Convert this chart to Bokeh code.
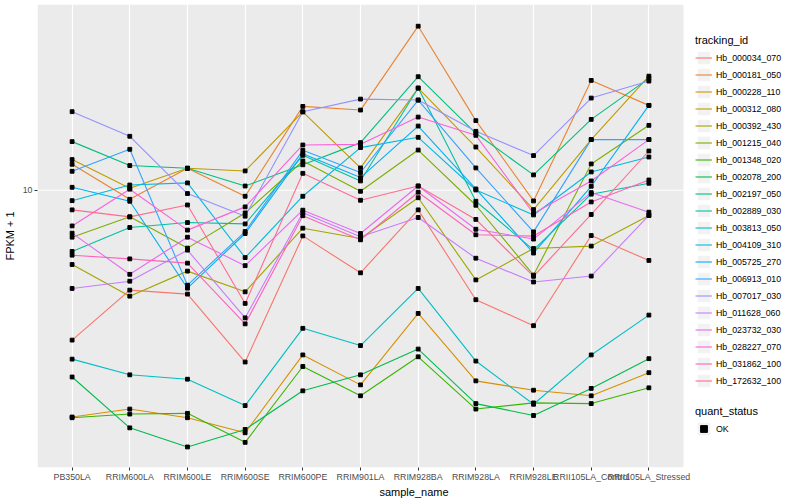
from bokeh.plotting import figure
from bokeh.models import (ColumnDataSource, Range1d, FixedTicker, Legend, LegendItem,
                          BasicTickFormatter, BoxAnnotation)
from bokeh.embed import file_html
from bokeh.resources import INLINE

samples = ["PB350LA", "RRIM600LA", "RRIM600LE", "RRIM600SE", "RRIM600PE", "RRIM901LA",
           "RRIM928BA", "RRIM928LA", "RRIM928LE", "RRII105LA_Control", "RRII105LA_Stressed"]

tracking_ids = ["Hb_000034_070", "Hb_000181_050", "Hb_000228_110", "Hb_000312_080",
                "Hb_000392_430", "Hb_001215_040", "Hb_001348_020", "Hb_002078_200",
                "Hb_002197_050", "Hb_002889_030", "Hb_003813_050", "Hb_004109_310",
                "Hb_005725_270", "Hb_006913_010", "Hb_007017_030", "Hb_011628_060",
                "Hb_023732_030", "Hb_028227_070", "Hb_031862_100", "Hb_172632_100"]

colors = ["#F8766D", "#EA8331", "#D89000", "#C09B00", "#A3A500", "#7CAE00", "#39B600",
          "#00BB4E", "#00BF7D", "#00C1A3", "#00BFC4", "#00BAE0", "#00B0F6", "#35A2FF",
          "#9590FF", "#C77CFF", "#E76BF3", "#FA62DB", "#FF62BC", "#FF6C91"]

# FPKM + 1 per sample (order of `samples`)
hb_000034_070 = [3.16, 4.64, 4.50, 2.67, 7.04, 5.30, 8.60, 4.31, 3.53, 7.06, 5.83]
hb_000181_050 = [12.21, 9.33, 11.84, 9.55, 19.05, 18.52, 35.29, 17.08, 9.21, 23.26, 19.2]
hb_000228_110 = [1.75, 1.86, 1.74, 1.55, 2.82, 2.24, 3.88, 2.31, 2.15, 2.06, 2.46]
hb_000312_080 = [12.66, 10.15, 11.84, 11.60, 18.27, 11.87, 21.93, 13.94, 8.62, 14.76, 24.04]
hb_000392_430 = [5.65, 4.43, 5.37, 4.58, 7.47, 6.90, 9.44, 5.02, 6.39, 6.51, 8.24]
hb_001215_040 = [6.97, 8.15, 6.41, 8.40, 12.52, 9.92, 13.62, 8.91, 5.21, 12.24, 16.47]
hb_001348_020 = [1.74, 1.79, 1.80, 1.44, 2.58, 2.06, 2.78, 1.86, 1.95, 1.94, 2.19]
hb_002078_200 = [2.38, 1.61, 1.39, 1.59, 2.14, 2.42, 2.95, 1.94, 1.77, 2.18, 2.74]
hb_002197_050 = [14.53, 12.09, 11.84, 10.33, 12.16, 14.42, 23.93, 15.49, 11.25, 17.24, 23.62]
hb_002889_030 = [6.25, 7.51, 7.80, 7.72, 13.08, 10.74, 21.93, 9.19, 6.32, 9.70, 10.55]
hb_003813_050 = [2.73, 2.42, 2.34, 1.91, 3.46, 3.03, 4.70, 2.69, 1.93, 2.82, 3.83]
hb_004109_310 = [9.23, 10.41, 10.58, 5.96, 9.55, 13.88, 15.02, 10.02, 8.27, 11.51, 12.91]
hb_005725_270 = [10.23, 9.19, 4.71, 7.17, 13.23, 11.02, 16.38, 10.10, 6.17, 10.31, 19.20]
hb_006913_010 = [11.57, 13.70, 4.82, 7.28, 13.59, 11.46, 20.0, 11.87, 7.26, 14.76, 14.76]
hb_007017_030 = [18.29, 15.14, 9.75, 8.19, 18.27, 20.15, 20.0, 15.73, 13.05, 20.31, 23.14]
hb_011628_060 = [4.70, 4.97, 6.31, 3.75, 8.41, 6.99, 8.11, 5.93, 4.94, 5.17, 8.24]
hb_023732_030 = [7.19, 5.24, 6.97, 5.60, 8.58, 7.17, 10.33, 7.41, 6.87, 9.82, 8.45]
hb_028227_070 = [7.60, 10.08, 7.36, 8.80, 14.16, 14.23, 17.55, 15.25, 8.36, 10.74, 14.76]
hb_031862_100 = [6.07, 5.90, 5.71, 3.58, 8.22, 6.83, 9.85, 7.10, 7.03, 9.14, 10.82]
hb_172632_100 = [8.60, 8.15, 8.93, 4.19, 11.39, 9.26, 10.33, 7.99, 5.16, 8.30, 13.52]

series = [hb_000034_070, hb_000181_050, hb_000228_110, hb_000312_080, hb_000392_430,
          hb_001215_040, hb_001348_020, hb_002078_200, hb_002197_050, hb_002889_030,
          hb_003813_050, hb_004109_310, hb_005725_270, hb_006913_010, hb_007017_030,
          hb_011628_060, hb_023732_030, hb_028227_070, hb_031862_100, hb_172632_100]

y_ticks = [10]
FONT = "Liberation Sans"

xpos = list(range(1, len(samples) + 1))
x_lo, x_hi = 0.4, len(samples) + 0.6          # ggplot-style discrete expansion
y_lo, y_hi = 1.187, 41.69
panel_w, legend_w = 646, 107                  # data panel + legend area (px)
x_end = x_hi + (x_hi - x_lo) * legend_w / panel_w

p = figure(frame_width=panel_w + legend_w, frame_height=463,
           x_range=Range1d(x_lo, x_end),
           y_range=Range1d(y_lo, y_hi), y_axis_type="log",
           output_backend="svg", toolbar_location=None,
           min_border_left=31, min_border_right=0, min_border_top=4, min_border_bottom=0)

p.background_fill_color = "white"
p.border_fill_color = "white"
p.outline_line_color = None

# grey panel only behind the data area
p.add_layout(BoxAnnotation(left=x_lo, right=x_hi, fill_color="#EBEBEB", fill_alpha=1,
                           line_color=None, level="image"))

xt = FixedTicker(ticks=xpos, minor_ticks=[])
yt = FixedTicker(ticks=y_ticks, minor_ticks=[])
p.xaxis.ticker = xt
p.yaxis.ticker = yt
p.xgrid.ticker = xt
p.xaxis.bounds = (x_lo, x_hi)
p.xaxis.major_label_overrides = {i: s for i, s in zip(xpos, samples)}
p.yaxis.formatter = BasicTickFormatter()
p.xgrid.grid_line_color = "white"
p.xgrid.grid_line_width = 1.2
p.xgrid.minor_grid_line_color = None
p.xgrid.level = "underlay"
p.ygrid.visible = False
# horizontal major grid line(s), limited to the data panel
p.segment(x0=[x_lo] * len(y_ticks), x1=[x_hi] * len(y_ticks), y0=y_ticks, y1=y_ticks,
          line_color="white", line_width=1.2, level="underlay")

for ax in (p.xaxis, p.yaxis):
    ax.axis_line_color = None
    ax.major_tick_line_color = "#333333"
    ax.major_tick_out = 3
    ax.major_tick_in = 0
    ax.minor_tick_line_color = None
    ax.major_label_text_font = FONT
    ax.major_label_text_font_size = "8.8px"
    ax.major_label_text_color = "#4D4D4D"
    ax.major_label_standoff = 1
    ax.axis_label_text_font = FONT
    ax.axis_label_text_font_size = "11px"
    ax.axis_label_text_font_style = "normal"
    ax.axis_label_text_color = "black"
    ax.axis_label_standoff = 1
p.yaxis.major_label_standoff = 2
p.yaxis.axis_label_standoff = 4
p.xaxis.axis_label = "sample_name"
p.yaxis.axis_label = "FPKM + 1"

# legend key background (grey box per key); its single datum sits outside the visible range
key_bg = p.rect(x="x", y="y", width=0.1, height=0.1,
                source=ColumnDataSource(dict(x=[x_end + 1], y=[y_hi * 10])),
                fill_color="#F2F2F2", line_color="white", line_width=1)

items = []
for tid, vals, col in zip(tracking_ids, series, colors):
    r = p.line(x=xpos, y=vals, line_color=col, line_width=1.1)
    items.append(LegendItem(label=tid, renderers=[key_bg, r]))

pts = None
for vals in series:
    pts = p.scatter(x=xpos, y=vals, marker="square", size=3.8, color="black")


def style_legend(lg):
    lg.title_text_font = FONT
    lg.title_text_font_size = "11px"
    lg.title_text_font_style = "normal"
    lg.title_text_color = "black"
    lg.title_standoff = 3
    lg.label_text_font = FONT
    lg.label_text_font_size = "8.8px"
    lg.label_text_color = "black"
    lg.glyph_width = 17
    lg.glyph_height = 17
    lg.label_height = 17
    lg.label_standoff = 4
    lg.spacing = 0
    lg.padding = 0
    lg.margin = 0
    lg.border_line_color = None
    lg.background_fill_alpha = 0


leg1 = Legend(items=items, title="tracking_id", location=(658, 78))
style_legend(leg1)
p.add_layout(leg1)

leg2 = Legend(items=[LegendItem(label="OK", renderers=[key_bg, pts])],
              title="quant_status", location=(658, 30))
style_legend(leg2)
p.add_layout(leg2)

open("out.html", "w").write(file_html(p, INLINE))
